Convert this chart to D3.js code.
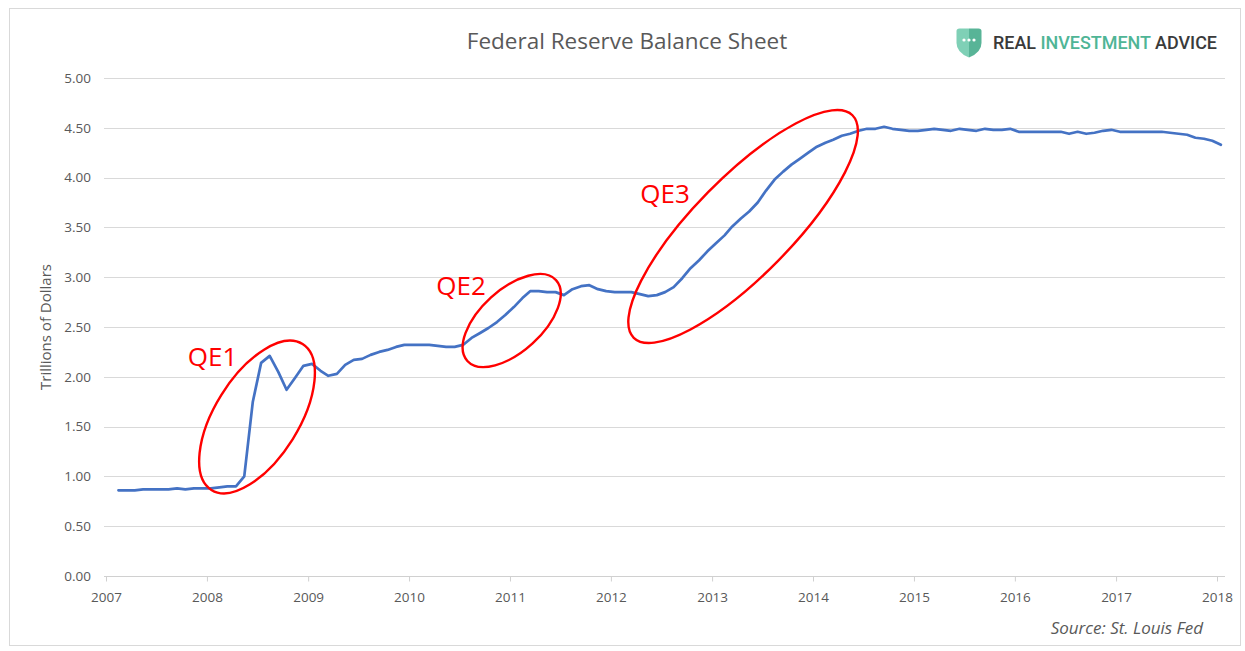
<!DOCTYPE html>
<html>
<head>
<meta charset="utf-8">
<script src="https://cdn.jsdelivr.net/npm/d3@7"></script>
<style>
  html, body { margin: 0; padding: 0; background: #ffffff; }
  svg { display: block; }
</style>
</head>
<body>
<svg id="chart" width="1245" height="651"></svg>
<script>
// ---------------- DATA ----------------
const chartTitle = "Federal Reserve Balance Sheet";
const yAxisTitle = "Trillions of Dollars";
const sourceText = "Source: St. Louis Fed";
const firstMonth = "2007-02";   // monthly observations, Feb 2007 .. Jan 2018
// Fed balance sheet, trillions of dollars (read from the picture)
const balanceValues = [
  0.86,0.86,0.86,0.87,0.87,0.87,0.87,0.88,0.87,0.88,0.88,0.88,0.89,0.90,0.90,
  1.00,1.75,2.14,2.21,2.05,1.87,1.99,2.11,2.13,
  2.06,2.01,2.03,2.12,2.17,2.18,2.22,2.25,2.27,2.30,2.32,2.32,2.32,2.32,2.31,2.30,2.30,2.32,
  2.39,2.44,2.49,2.55,2.62,2.70,2.79,2.86,2.86,2.85,2.85,2.82,2.88,2.91,2.92,2.88,2.86,2.85,2.85,2.85,
  2.83,2.81,2.82,2.85,2.90,2.99,3.09,3.17,3.26,3.34,3.42,3.51,3.59,3.66,3.75,3.87,3.98,4.06,4.13,4.19,
  4.25,4.31,4.35,4.38,4.42,4.44,4.47,4.49,4.49,4.51,4.49,
  4.48,4.47,4.47,4.48,4.49,4.48,4.47,4.49,4.48,4.47,4.49,4.48,4.48,4.49,4.46,4.46,4.46,4.46,4.46,4.46,
  4.44,4.46,4.44,4.45,4.47,4.48,4.46,4.46,4.46,4.46,4.46,4.46,4.45,4.44,4.43,4.40,4.39,4.37,4.33
];
const yTickValues = [0, 0.5, 1, 1.5, 2, 2.5, 3, 3.5, 4, 4.5, 5];
const xTickYears = [2007, 2008, 2009, 2010, 2011, 2012, 2013, 2014, 2015, 2016, 2017, 2018];
// annotations: centre (decimal year, value), label anchor (decimal year, value)
const qeLabels   = ["QE1", "QE2", "QE3"];
const qeCenterYr = [2008.495, 2011.017, 2013.307];
const qeCenterV  = [1.596, 2.565, 3.509];
const qeLabelYr  = [2007.81, 2010.27, 2012.29];
const qeLabelV   = [2.11, 2.82, 3.745];
const qeRx       = [86, 60, 156];
const qeRy       = [42, 31, 49];
const qeAngle    = [-58, -42.4, -45.5];
const logoParts  = ["REAL ", "INVESTMENT ", "ADVICE"];

// ---------------- SETUP ----------------
const svg = d3.select("#chart");
const W = 1245, H = 651;
const plotL = 104, plotR = 1225, plotT = 78, plotB = 576;
const FONT = "'Open Sans', 'Noto Sans', sans-serif";
const TXT = "#595959";

const monthParse = d3.timeParse("%Y-%m");
const start = monthParse(firstMonth);
const series = balanceValues.map((v, i) => {
  const m = d3.timeMonth.offset(start, i);
  return { date: new Date(m.getFullYear(), m.getMonth(), 15), value: v };
});
function yearToDate(y) {
  const y0 = Math.floor(y);
  const a = new Date(y0, 0, 1), b = new Date(y0 + 1, 0, 1);
  return new Date(+a + (y - y0) * (b - a));
}

const x = d3.scaleTime()
  .domain([new Date(2007, 0, 1), new Date(2018, 0, 1)])
  .range([106, 1217]);
const y = d3.scaleLinear().domain([0, 5]).range([plotB, plotT]);

// background + border
svg.append("rect").attr("x", 0).attr("y", 0).attr("width", W).attr("height", H).attr("fill", "#fff");
svg.append("rect").attr("x", 9.5).attr("y", 8.5).attr("width", 1231).attr("height", 637)
  .attr("fill", "none").attr("stroke", "#d9d9d9").attr("stroke-width", 1);

// gridlines
svg.append("g").selectAll("line").data(yTickValues.filter(d => d > 0)).join("line")
  .attr("x1", plotL).attr("x2", plotR)
  .attr("y1", d => Math.round(y(d)) + 0.5).attr("y2", d => Math.round(y(d)) + 0.5)
  .attr("stroke", "#d9d9d9").attr("stroke-width", 1);

// y axis labels
const yAxis = d3.axisLeft(y).tickValues(yTickValues).tickFormat(d3.format(".2f")).tickSize(0).tickPadding(13);
const gy = svg.append("g").attr("transform", `translate(${plotL},0)`).call(yAxis);
gy.select(".domain").remove();
gy.selectAll("text").attr("font-family", FONT).attr("font-size", 13.5).attr("fill", TXT);

// x axis
const xAxis = d3.axisBottom(x)
  .tickValues(xTickYears.map(yr => new Date(yr, 0, 1)))
  .tickFormat(d3.timeFormat("%Y")).tickSizeInner(5).tickSizeOuter(0).tickPadding(11);
const gx = svg.append("g").attr("transform", `translate(0,${plotB + 0.5})`).call(xAxis);
gx.select(".domain").remove();
gx.selectAll(".tick line").attr("stroke", "#d0d0d0");
gx.selectAll("text").attr("font-family", FONT).attr("font-size", 13.5).attr("fill", TXT);
svg.append("line").attr("x1", plotL).attr("x2", plotR)
  .attr("y1", plotB + 0.5).attr("y2", plotB + 0.5).attr("stroke", "#d0d0d0").attr("stroke-width", 1);

// y axis title
svg.append("text")
  .attr("transform", `translate(51,${(plotT + plotB) / 2}) rotate(-90)`)
  .attr("text-anchor", "middle").attr("font-family", FONT).attr("font-size", 15)
  .attr("fill", TXT).text(yAxisTitle);

// line
const line = d3.line().x(d => x(d.date)).y(d => y(d.value));
svg.append("path").datum(series)
  .attr("fill", "none").attr("stroke", "#4472c4").attr("stroke-width", 2.7)
  .attr("stroke-linejoin", "round").attr("stroke-linecap", "round")
  .attr("d", line);

// annotations
qeLabels.forEach((lab, i) => {
  const cx = x(yearToDate(qeCenterYr[i])), cy = y(qeCenterV[i]);
  svg.append("ellipse")
    .attr("transform", `translate(${cx},${cy}) rotate(${qeAngle[i]})`)
    .attr("rx", qeRx[i]).attr("ry", qeRy[i])
    .attr("fill", "none").attr("stroke", "#ff0000").attr("stroke-width", 2.4);
  svg.append("text")
    .attr("x", x(yearToDate(qeLabelYr[i]))).attr("y", y(qeLabelV[i]))
    .attr("font-family", FONT).attr("font-size", 26).attr("fill", "#ff0000")
    .text(lab);
});

// title
svg.append("text").attr("x", 627).attr("y", 49).attr("text-anchor", "middle")
  .attr("font-family", FONT).attr("font-size", 22.5).attr("fill", TXT).text(chartTitle);

// logo
const logo = svg.append("g").attr("transform", "translate(955,28)");
const defs = svg.append("defs");
const grad = defs.append("linearGradient").attr("id", "shieldGrad").attr("x1", "0").attr("x2", "1").attr("y1", "0").attr("y2", "0");
grad.append("stop").attr("offset", "0").attr("stop-color", "#7fd0b6");
grad.append("stop").attr("offset", "0.5").attr("stop-color", "#7fd0b6");
grad.append("stop").attr("offset", "0.5").attr("stop-color", "#58b497");
grad.append("stop").attr("offset", "1").attr("stop-color", "#58b497");
logo.append("path")
  .attr("d", "M1.5,3 Q1.5,0.5 4.5,0.5 L23.5,0.5 Q26.5,0.5 26.5,3 L26.5,15 Q26.5,24.5 14,29.5 Q1.5,24.5 1.5,15 Z")
  .attr("fill", "url(#shieldGrad)");
[9, 14, 19].forEach(cx => logo.append("circle").attr("cx", cx).attr("cy", 12).attr("r", 1.6).attr("fill", "#fff"));
const lt = svg.append("text").attr("x", 993).attr("y", 49)
  .attr("font-family", "Roboto, 'Open Sans', sans-serif").attr("font-weight", 500).attr("font-size", 17.5)
  .attr("textLength", 224).attr("lengthAdjust", "spacingAndGlyphs");
const logoColors = ["#3a3a3a", "#4fb596", "#3a3a3a"];
logoParts.forEach((p, i) => lt.append("tspan").attr("fill", logoColors[i]).text(p));

// source
svg.append("text").attr("x", 1203).attr("y", 634).attr("text-anchor", "end")
  .attr("font-family", FONT).attr("font-style", "italic").attr("font-size", 17)
  .attr("fill", TXT).text(sourceText);
</script>
</body>
</html>
